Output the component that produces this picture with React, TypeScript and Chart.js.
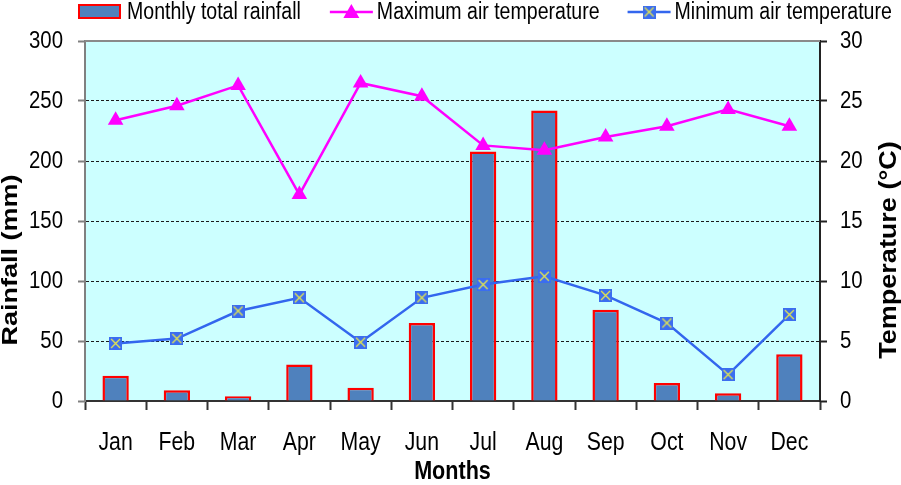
import React, { useEffect, useRef } from "react";
import { Chart, registerables } from "chart.js";

Chart.register(...registerables);

const months = ["Jan", "Feb", "Mar", "Apr", "May", "Jun", "Jul", "Aug", "Sep", "Oct", "Nov", "Dec"];
const rainfall = [21, 9, 4, 30.5, 11, 65, 208, 242, 76, 15, 6.5, 39];
const maxTemp = [23.4, 24.6, 26.3, 17.2, 26.5, 25.4, 21.3, 20.9, 22.0, 22.9, 24.3, 22.9];
const minTemp = [4.8, 5.2, 7.5, 8.6, 4.9, 8.6, 9.7, 10.4, 8.8, 6.5, 2.2, 7.2];

const rainMin = 0;
const rainMax = 300;
const rainStep = 50;
const tempMin = 0;
const tempMax = 30;
const tempStep = 5;

const seriesLabels = ["Monthly total rainfall", "Maximum air temperature", "Minimum air temperature"];
const xTitle = "Months";
const yLeftTitle = "Rainfall (mm)";
const yRightTitle = "Temperature (°C)";

const SANS = '"Liberation Sans", Arial, sans-serif';
const SX = 0.85; // horizontal squeeze of the reference's text

const BAR_FILL = "#4F81BD";
const BAR_BORDER = "#FF0000";
const MAX_COLOR = "#FF00FF";
const MIN_COLOR = "#3366EE";

function makeMinMarker(): HTMLCanvasElement {
  const c = document.createElement("canvas");
  c.width = 13;
  c.height = 13;
  const g = c.getContext("2d")!;
  g.fillStyle = "#3B6DF0";
  g.fillRect(0, 0, 13, 13);
  g.strokeStyle = "#E8E84A";
  g.lineWidth = 1.3;
  g.beginPath();
  g.moveTo(2, 2);
  g.lineTo(11, 11);
  g.moveTo(11, 2);
  g.lineTo(2, 11);
  g.stroke();
  return c;
}

function squeezedText(
  ctx: CanvasRenderingContext2D,
  text: string,
  x: number,
  y: number,
  font: string,
  align: CanvasTextAlign,
  sx: number
) {
  ctx.save();
  ctx.translate(x, y);
  ctx.scale(sx, 1);
  ctx.font = font;
  ctx.fillStyle = "#000";
  ctx.textAlign = align;
  ctx.textBaseline = "middle";
  ctx.fillText(text, 0, 0);
  ctx.restore();
}

export default function App() {
  const ref = useRef<HTMLCanvasElement | null>(null);

  useEffect(() => {
    document.body.style.margin = "0";
    const canvas = ref.current;
    if (!canvas) return;
    const minMarker = makeMinMarker();

    const bgPlugin = {
      id: "bgPlugin",
      beforeDraw(chart: any) {
        const { ctx, chartArea } = chart;
        ctx.save();
        ctx.fillStyle = "#CCFFFF";
        ctx.fillRect(chartArea.left, chartArea.top, chartArea.right - chartArea.left, chartArea.bottom - chartArea.top);
        ctx.restore();
      },
      afterDatasetsDraw(chart: any) {
        const { ctx, chartArea } = chart;
        ctx.save();
        ctx.strokeStyle = "#8A8A8A";
        ctx.lineWidth = 2;
        ctx.beginPath();
        ctx.moveTo(chartArea.left, chartArea.top);
        ctx.lineTo(chartArea.right, chartArea.top);
        ctx.stroke();
        ctx.restore();
      },
    };

    const textPlugin = {
      id: "textPlugin",
      afterDraw(chart: any) {
        const { ctx } = chart;
        const xs = chart.scales.x;
        const ys = chart.scales.y;
        const y1s = chart.scales.y1;
        // x tick labels
        const xFont = `25px ${SANS}`;
        xs.ticks.forEach((t: any, i: number) => {
          const label = months[t.value] ?? String(t.label);
          squeezedText(ctx, label, xs.getPixelForTick(i), 443, xFont, "center", SX);
        });
        // left tick labels
        const yFont = `24px ${SANS}`;
        ys.ticks.forEach((t: any) => {
          squeezedText(ctx, String(t.value), ys.left + ys.width - 7 - 15, ys.getPixelForValue(t.value), yFont, "right", SX);
        });
        // right tick labels
        y1s.ticks.forEach((t: any) => {
          squeezedText(ctx, String(t.value), y1s.left + 7 + 13, y1s.getPixelForValue(t.value), yFont, "left", SX);
        });
        // x title
        const ca = chart.chartArea;
        squeezedText(ctx, xTitle, (ca.left + ca.right) / 2, 472, `bold 26px ${SANS}`, "center", 0.83);
        // vertical titles
        const drawV = (text: string, x: number, y: number, sy: number) => {
          ctx.save();
          ctx.translate(x, y);
          ctx.rotate(-Math.PI / 2);
          ctx.scale(1, sy);
          ctx.font = `bold 27px ${SANS}`;
          ctx.fillStyle = "#000";
          ctx.textAlign = "center";
          ctx.textBaseline = "alphabetic";
          ctx.fillText(text, 0, 0);
          ctx.restore();
        };
        drawV(yLeftTitle, 16.5, 260, 0.8);
        drawV(yRightTitle, 896, 250, 0.9);
      },
    };

    const legendPlugin = {
      id: "legendPlugin",
      afterDraw(chart: any) {
        const { ctx } = chart;
        const font = `23px ${SANS}`;
        ctx.save();
        ctx.font = font;
        const w = (s: string) => ctx.measureText(s).width * SX;
        const cy = 12;
        let x = 78;
        const iconW = 43;
        // bar item
        ctx.fillStyle = BAR_FILL;
        ctx.fillRect(x, cy - 8, iconW, 15);
        ctx.strokeStyle = BAR_BORDER;
        ctx.lineWidth = 2;
        ctx.strokeRect(x + 1, cy - 7, iconW - 2, 13);
        x += iconW + 6;
        squeezedText(ctx, seriesLabels[0], x, cy + 1, font, "left", SX);
        x += w(seriesLabels[0]) + 29;
        // max item
        ctx.strokeStyle = MAX_COLOR;
        ctx.lineWidth = 2.5;
        ctx.beginPath();
        ctx.moveTo(x, cy);
        ctx.lineTo(x + iconW, cy);
        ctx.stroke();
        ctx.fillStyle = MAX_COLOR;
        const tx = x + iconW / 2;
        ctx.beginPath();
        ctx.moveTo(tx, cy - 8);
        ctx.lineTo(tx + 8, cy + 6);
        ctx.lineTo(tx - 8, cy + 6);
        ctx.closePath();
        ctx.fill();
        x += iconW + 4;
        squeezedText(ctx, seriesLabels[1], x, cy + 1, font, "left", SX);
        x += w(seriesLabels[1]) + 28;
        // min item
        ctx.strokeStyle = MIN_COLOR;
        ctx.lineWidth = 2.5;
        ctx.beginPath();
        ctx.moveTo(x, cy);
        ctx.lineTo(x + iconW, cy);
        ctx.stroke();
        ctx.drawImage(minMarker, x + iconW / 2 - 6.5, cy - 6.5);
        x += iconW + 4;
        squeezedText(ctx, seriesLabels[2], x, cy + 1, font, "left", SX);
        ctx.restore();
      },
    };

    const chart = new Chart(canvas, {
      type: "bar",
      data: {
        labels: months,
        datasets: [
          {
            type: "bar",
            label: seriesLabels[0],
            data: rainfall,
            backgroundColor: BAR_FILL,
            borderColor: BAR_BORDER,
            borderWidth: 2.5,
            yAxisID: "y",
            order: 3,
            barPercentage: 0.43,
            categoryPercentage: 1,
          },
          {
            type: "line",
            label: seriesLabels[1],
            data: maxTemp,
            borderColor: MAX_COLOR,
            backgroundColor: MAX_COLOR,
            borderWidth: 2.5,
            pointStyle: "triangle",
            pointRadius: 9,
            pointBackgroundColor: MAX_COLOR,
            pointBorderColor: MAX_COLOR,
            pointBorderWidth: 0,
            tension: 0,
            yAxisID: "y1",
            order: 1,
          },
          {
            type: "line",
            label: seriesLabels[2],
            data: minTemp,
            borderColor: MIN_COLOR,
            backgroundColor: MIN_COLOR,
            borderWidth: 2.5,
            pointStyle: minMarker as any,
            pointRadius: 6,
            tension: 0,
            yAxisID: "y1",
            order: 2,
          },
        ] as any,
      },
      options: {
        animation: false,
        responsive: false,
        maintainAspectRatio: false,
        layout: { padding: { top: 41, left: 0, right: 0, bottom: 0 } },
        plugins: {
          legend: { display: false },
          tooltip: { enabled: false },
        },
        scales: {
          x: {
            type: "category",
            offset: true,
            grid: {
              display: true,
              drawOnChartArea: false,
              drawTicks: true,
              tickLength: 9,
              offset: true,
              tickColor: "#333",
              tickWidth: 2,
            },
            border: { display: true, color: "#333", width: 2 },
            ticks: { display: false, autoSkip: false, maxRotation: 0 },
            title: { display: false },
            afterFit: (s: any) => {
              s.height = 84;
            },
          },
          y: {
            type: "linear",
            position: "left",
            min: rainMin,
            max: rainMax,
            ticks: { display: false, stepSize: rainStep },
            grid: {
              drawOnChartArea: true,
              drawTicks: true,
              tickLength: 7,
              tickColor: "#808080",
              tickWidth: 2,
              lineWidth: 1,
              color: (c: any) =>
                c.tick && (c.tick.value === rainMin || c.tick.value === rainMax) ? "rgba(0,0,0,0)" : "#1a1a1a",
            },
            border: { display: true, color: "#808080", width: 2, dash: [3, 2] },
            afterFit: (s: any) => {
              s.width = 85;
            },
          },
          y1: {
            type: "linear",
            position: "right",
            min: tempMin,
            max: tempMax,
            ticks: { display: false, stepSize: tempStep },
            grid: {
              drawOnChartArea: false,
              drawTicks: true,
              tickLength: 7,
              tickColor: "#222",
              tickWidth: 2,
            },
            border: { display: true, color: "#222", width: 2 },
            afterFit: (s: any) => {
              s.width = 81;
            },
          },
        },
      } as any,
      plugins: [bgPlugin, textPlugin, legendPlugin],
    });

    return () => {
      chart.destroy();
    };
  }, []);

  return (
    <div style={{ position: "absolute", left: 0, top: 0, width: 901, height: 485, background: "#fff" }}>
      <canvas ref={ref} width={901} height={485} style={{ display: "block" }} />
    </div>
  );
}
